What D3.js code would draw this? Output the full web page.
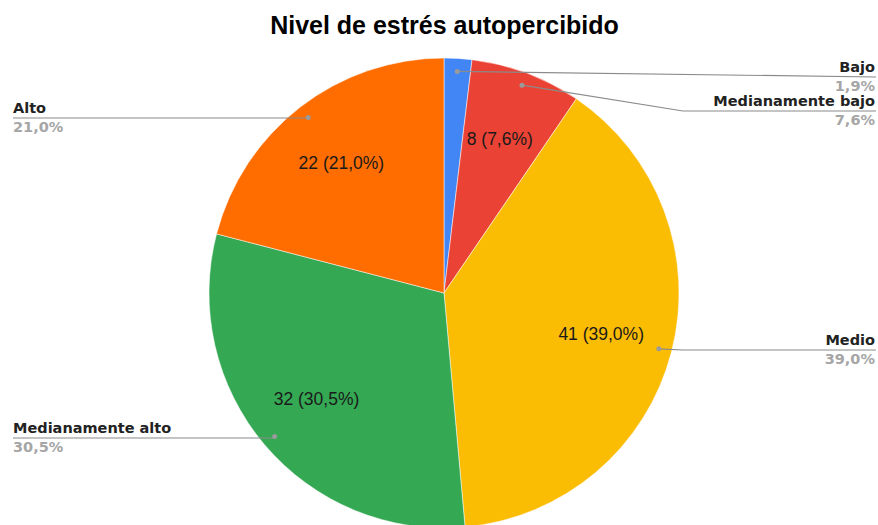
<!DOCTYPE html>
<html>
<head>
<meta charset="utf-8">
<script src="https://cdn.jsdelivr.net/npm/d3@7"></script>
<style>
  body { margin: 0; background: #fff; }
  svg text { font-family: "Liberation Sans", Arial, sans-serif; }
  svg text.legend { font-family: "DejaVu Sans", sans-serif; font-weight: bold; font-size: 14.5px; }
</style>
</head>
<body>
<div id="chart"></div>
<script>
var svgWidth = 878;
var svgHeight = 525;

// chart data
var categories = ["Bajo", "Medianamente bajo", "Medio", "Medianamente alto", "Alto"];
var counts = [2, 8, 41, 32, 22];
var percentLabels = ["1,9%", "7,6%", "39,0%", "30,5%", "21,0%"];
var colors = ["#4285F4", "#EA4335", "#FBBC04", "#34A853", "#FF6D01"];

var cx = 444, cy = 293, radius = 235;

var svg = d3.select("#chart")
  .append("svg")
  .attr("width", svgWidth)
  .attr("height", svgHeight);

svg.append("text")
  .attr("x", 444.5)
  .attr("y", 34)
  .attr("text-anchor", "middle")
  .style("font-size", "25px")
  .style("font-weight", "bold")
  .attr("fill", "#000")
  .text("Nivel de estrés autopercibido");

var data = categories.map(function(c, i) {
  return { name: c, value: counts[i], pct: percentLabels[i], color: colors[i] };
});

var pie = d3.pie()
  .value(d => d.value)
  .sort(null);

var arcs = pie(data);

var arc = d3.arc().innerRadius(0).outerRadius(radius);
var labelArc = d3.arc().innerRadius(radius * 0.7).outerRadius(radius * 0.7);
var dotArc = d3.arc().innerRadius(222).outerRadius(222);

var pieGroup = svg.append("g")
  .attr("transform", `translate(${cx}, ${cy})`);

pieGroup.selectAll("path")
  .data(arcs)
  .enter()
  .append("path")
  .attr("d", arc)
  .attr("fill", d => d.data.color)
  .attr("stroke", "#fff")
  .attr("stroke-width", 0.5);

// inner labels (skip the tiny slice)
pieGroup.selectAll("text.inner")
  .data(arcs.filter(d => d.data.value > 5))
  .enter()
  .append("text")
  .attr("class", "inner")
  .attr("x", d => labelArc.centroid(d)[0] - 2)
  .attr("y", d => labelArc.centroid(d)[1] + 6)
  .attr("text-anchor", "middle")
  .style("font-size", "17.5px")
  .attr("fill", "#1a1a1a")
  .text(d => `${d.data.value} (${d.data.pct})`);

// outside legend labels: line y for each slice
var lineY = [77, 111, 350, 438, 118];
var rightSide = [true, true, true, false, false];

arcs.forEach(function(d, i) {
  var p = dotArc.centroid(d);
  var dx = cx + p[0], dy = cy + p[1];
  var right = rightSide[i];
  var endX = right ? 876 : 13;
  var elbowX = right ? Math.max(dx, 683) : dx;
  var pts = [[dx, dy], [elbowX, lineY[i]], [endX, lineY[i]]];
  if (i === 0) pts = [[dx, dy], [endX, lineY[i]]];

  svg.append("path")
    .attr("d", d3.line()(pts))
    .attr("fill", "none")
    .attr("stroke", "#8a8a8a")
    .attr("stroke-width", 1.2);

  svg.append("circle")
    .attr("cx", dx)
    .attr("cy", dy)
    .attr("r", 2.5)
    .attr("fill", "#9a9a9a");

  var tx = right ? 875 : 13;
  var anchor = right ? "end" : "start";

  svg.append("text")
    .attr("class", "legend")
    .attr("x", tx)
    .attr("y", lineY[i] - 5)
    .attr("text-anchor", anchor)
    .attr("fill", "#222")
    .text(d.data.name);

  svg.append("text")
    .attr("class", "legend")
    .attr("x", tx)
    .attr("y", lineY[i] + 14)
    .attr("text-anchor", anchor)
    .attr("fill", "#a6a6a6")
    .text(d.data.pct);
});
</script>
</body>
</html>
